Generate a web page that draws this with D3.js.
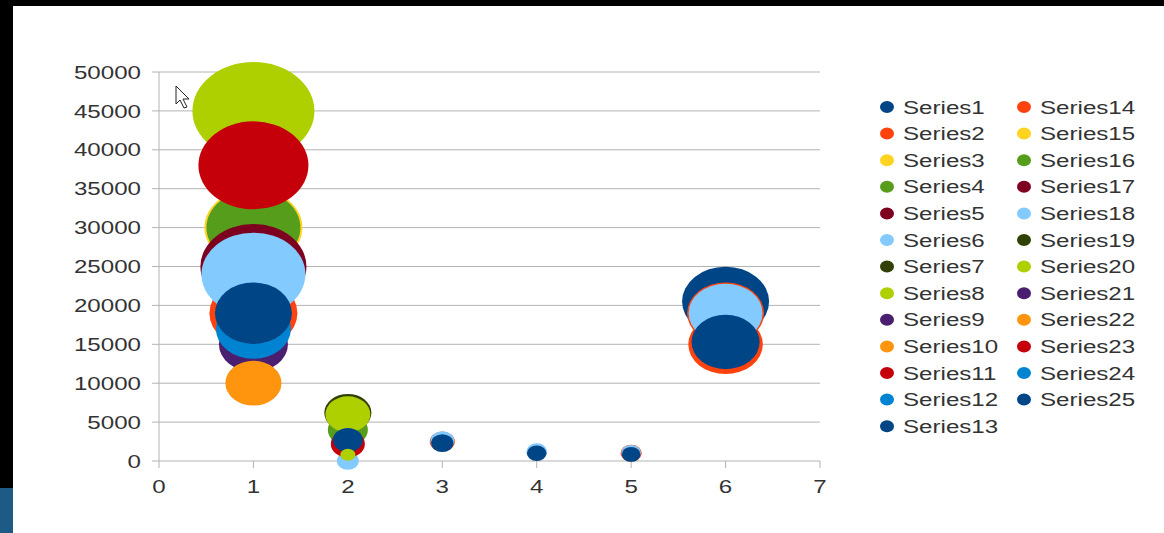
<!DOCTYPE html>
<html>
<head>
<meta charset="utf-8">
<script src="https://cdn.jsdelivr.net/npm/d3@7"></script>
<style>
  html, body { margin: 0; padding: 0; background: #fff; }
  svg { display: block; }
  text { font-family: "Liberation Sans", Arial, sans-serif; fill: #333; }
</style>
</head>
<body>
<svg width="1164" height="533"></svg>
<script>
// series names and colours (LibreOffice default palette, repeats after 12)
let seriesNames = d3.range(1, 26).map(i => "Series" + i);
let palette = ["#004586", "#ff420e", "#ffd320", "#579d1c", "#7e0021", "#83caff",
  "#314004", "#aecf00", "#4b1f6f", "#ff950e", "#c5000b", "#0084d1"];
let seriesColors = seriesNames.map((d, i) => palette[i % 12]);

// bubble data per series: x values, y values, bubble sizes
let bubbleX = [
  [6], [1, 6, 3], [1], [1, 2], [1], [1, 2], [2], [1, 2], [1], [1],
  [1, 2], [1], [1, 2], [6, 5], [], [], [], [6, 3, 4, 5], [], [2],
  [], [], [], [], [6, 3, 4, 5]
];
let bubbleY = [
  [20500], [19000, 19000, 2500], [30000], [30000, 4000], [25000], [24000, 0], [6200], [45000, 6000], [15000], [10000],
  [38000, 2200], [17000], [19000, 2700], [15000, 1000], [], [], [], [19000, 2600, 1200, 1050], [], [800],
  [], [], [], [], [15300, 2300, 1000, 850]
];
let bubbleSize = [
  [22900], [23400, 17900, 1900], [29000], [26700, 4840], [34000], [32700, 1460], [6700], [45000, 6100], [14400], [9500],
  [36600, 3500], [17000], [17900, 2700], [16800, 1350], [], [], [], [16500, 1700, 1300, 1150], [], [700],
  [], [], [], [], [14000, 1500, 1150, 1050]
];
let yTicks = d3.range(0, 50001, 5000);
let xTicks = d3.range(0, 8);

var svg = d3.select("svg"),
  width = +svg.attr("width"),
  height = +svg.attr("height");

let x = d3.scaleLinear().domain([0, 7]).range([159, 820]);
let y = d3.scaleLinear().domain([0, 50000]).range([461, 72]);
let r = d3.scaleSqrt().domain([0, 45000]).range([0, 61]);
let squash = 0.8;     // bubbles are drawn wider than tall
let stretch = 1.27;   // text is stretched horizontally too

// screen frame bits
svg.append("rect").attr("x", 0).attr("y", 0).attr("width", width).attr("height", 6).attr("fill", "#000");
svg.append("rect").attr("x", 0).attr("y", 0).attr("width", 13).attr("height", 488).attr("fill", "#000");
svg.append("rect").attr("x", 0).attr("y", 488).attr("width", 13).attr("height", height - 488).attr("fill", "#1d5a86");

// grid
let grid = svg.append("g");
grid.selectAll("line")
  .data(yTicks)
  .enter()
  .append("line")
  .attr("x1", x(0) - 7)
  .attr("x2", x(7))
  .attr("y1", d => y(d))
  .attr("y2", d => y(d))
  .attr("stroke", "#b3b3b3")
  .attr("stroke-width", 1);

// axes lines + ticks
svg.append("line")
  .attr("x1", x(0)).attr("x2", x(0))
  .attr("y1", y(50000)).attr("y2", y(0) + 7)
  .attr("stroke", "#b3b3b3");
svg.append("g").selectAll("line")
  .data(xTicks.slice(1))
  .enter()
  .append("line")
  .attr("x1", d => x(d)).attr("x2", d => x(d))
  .attr("y1", y(0)).attr("y2", y(0) + 7)
  .attr("stroke", "#b3b3b3");

// tick labels
svg.append("g").selectAll("text")
  .data(yTicks)
  .enter()
  .append("text")
  .attr("transform", d => `translate(141,${y(d)}) scale(${stretch},1)`)
  .attr("text-anchor", "end")
  .attr("dy", "0.35em")
  .style("font-size", "19px")
  .text(d => d);

svg.append("g").selectAll("text")
  .data(xTicks)
  .enter()
  .append("text")
  .attr("transform", d => `translate(${x(d)},493) scale(${stretch},1)`)
  .attr("text-anchor", "middle")
  .style("font-size", "19px")
  .text(d => d);

// bubbles, series drawn in order so later ones sit on top
let points = [];
seriesNames.forEach((name, i) => {
  bubbleX[i].forEach((bx, j) => {
    points.push({ series: i, x: bx, y: bubbleY[i][j], size: bubbleSize[i][j] });
  });
});

svg.append("g").selectAll("ellipse")
  .data(points)
  .enter()
  .append("ellipse")
  .attr("cx", d => x(d.x))
  .attr("cy", d => y(d.y))
  .attr("rx", d => r(d.size))
  .attr("ry", d => r(d.size) * squash)
  .attr("fill", d => seriesColors[d.series]);

// mouse pointer left in the screenshot
svg.append("path")
  .attr("d", "M176,86 L176,104 L180,100 L184,108 L187,107 L183,99 L189,99 Z")
  .attr("fill", "#fff")
  .attr("stroke", "#222")
  .attr("stroke-width", 1);

// legend: two columns, 13 rows
let legend = svg.append("g");
let rowH = 26.6;
let items = legend.selectAll("g")
  .data(seriesNames)
  .enter()
  .append("g")
  .attr("transform", (d, i) => {
    let col = i < 13 ? 0 : 1;
    let row = i < 13 ? i : i - 13;
    return `translate(${col === 0 ? 887 : 1024},${107 + row * rowH})`;
  });
items.append("ellipse")
  .attr("rx", 7)
  .attr("ry", 6)
  .attr("fill", (d, i) => seriesColors[i]);
items.append("text")
  .attr("transform", `translate(16,0) scale(${stretch},1)`)
  .attr("dy", "0.35em")
  .style("font-size", "19px")
  .text(d => d);
</script>
</body>
</html>
